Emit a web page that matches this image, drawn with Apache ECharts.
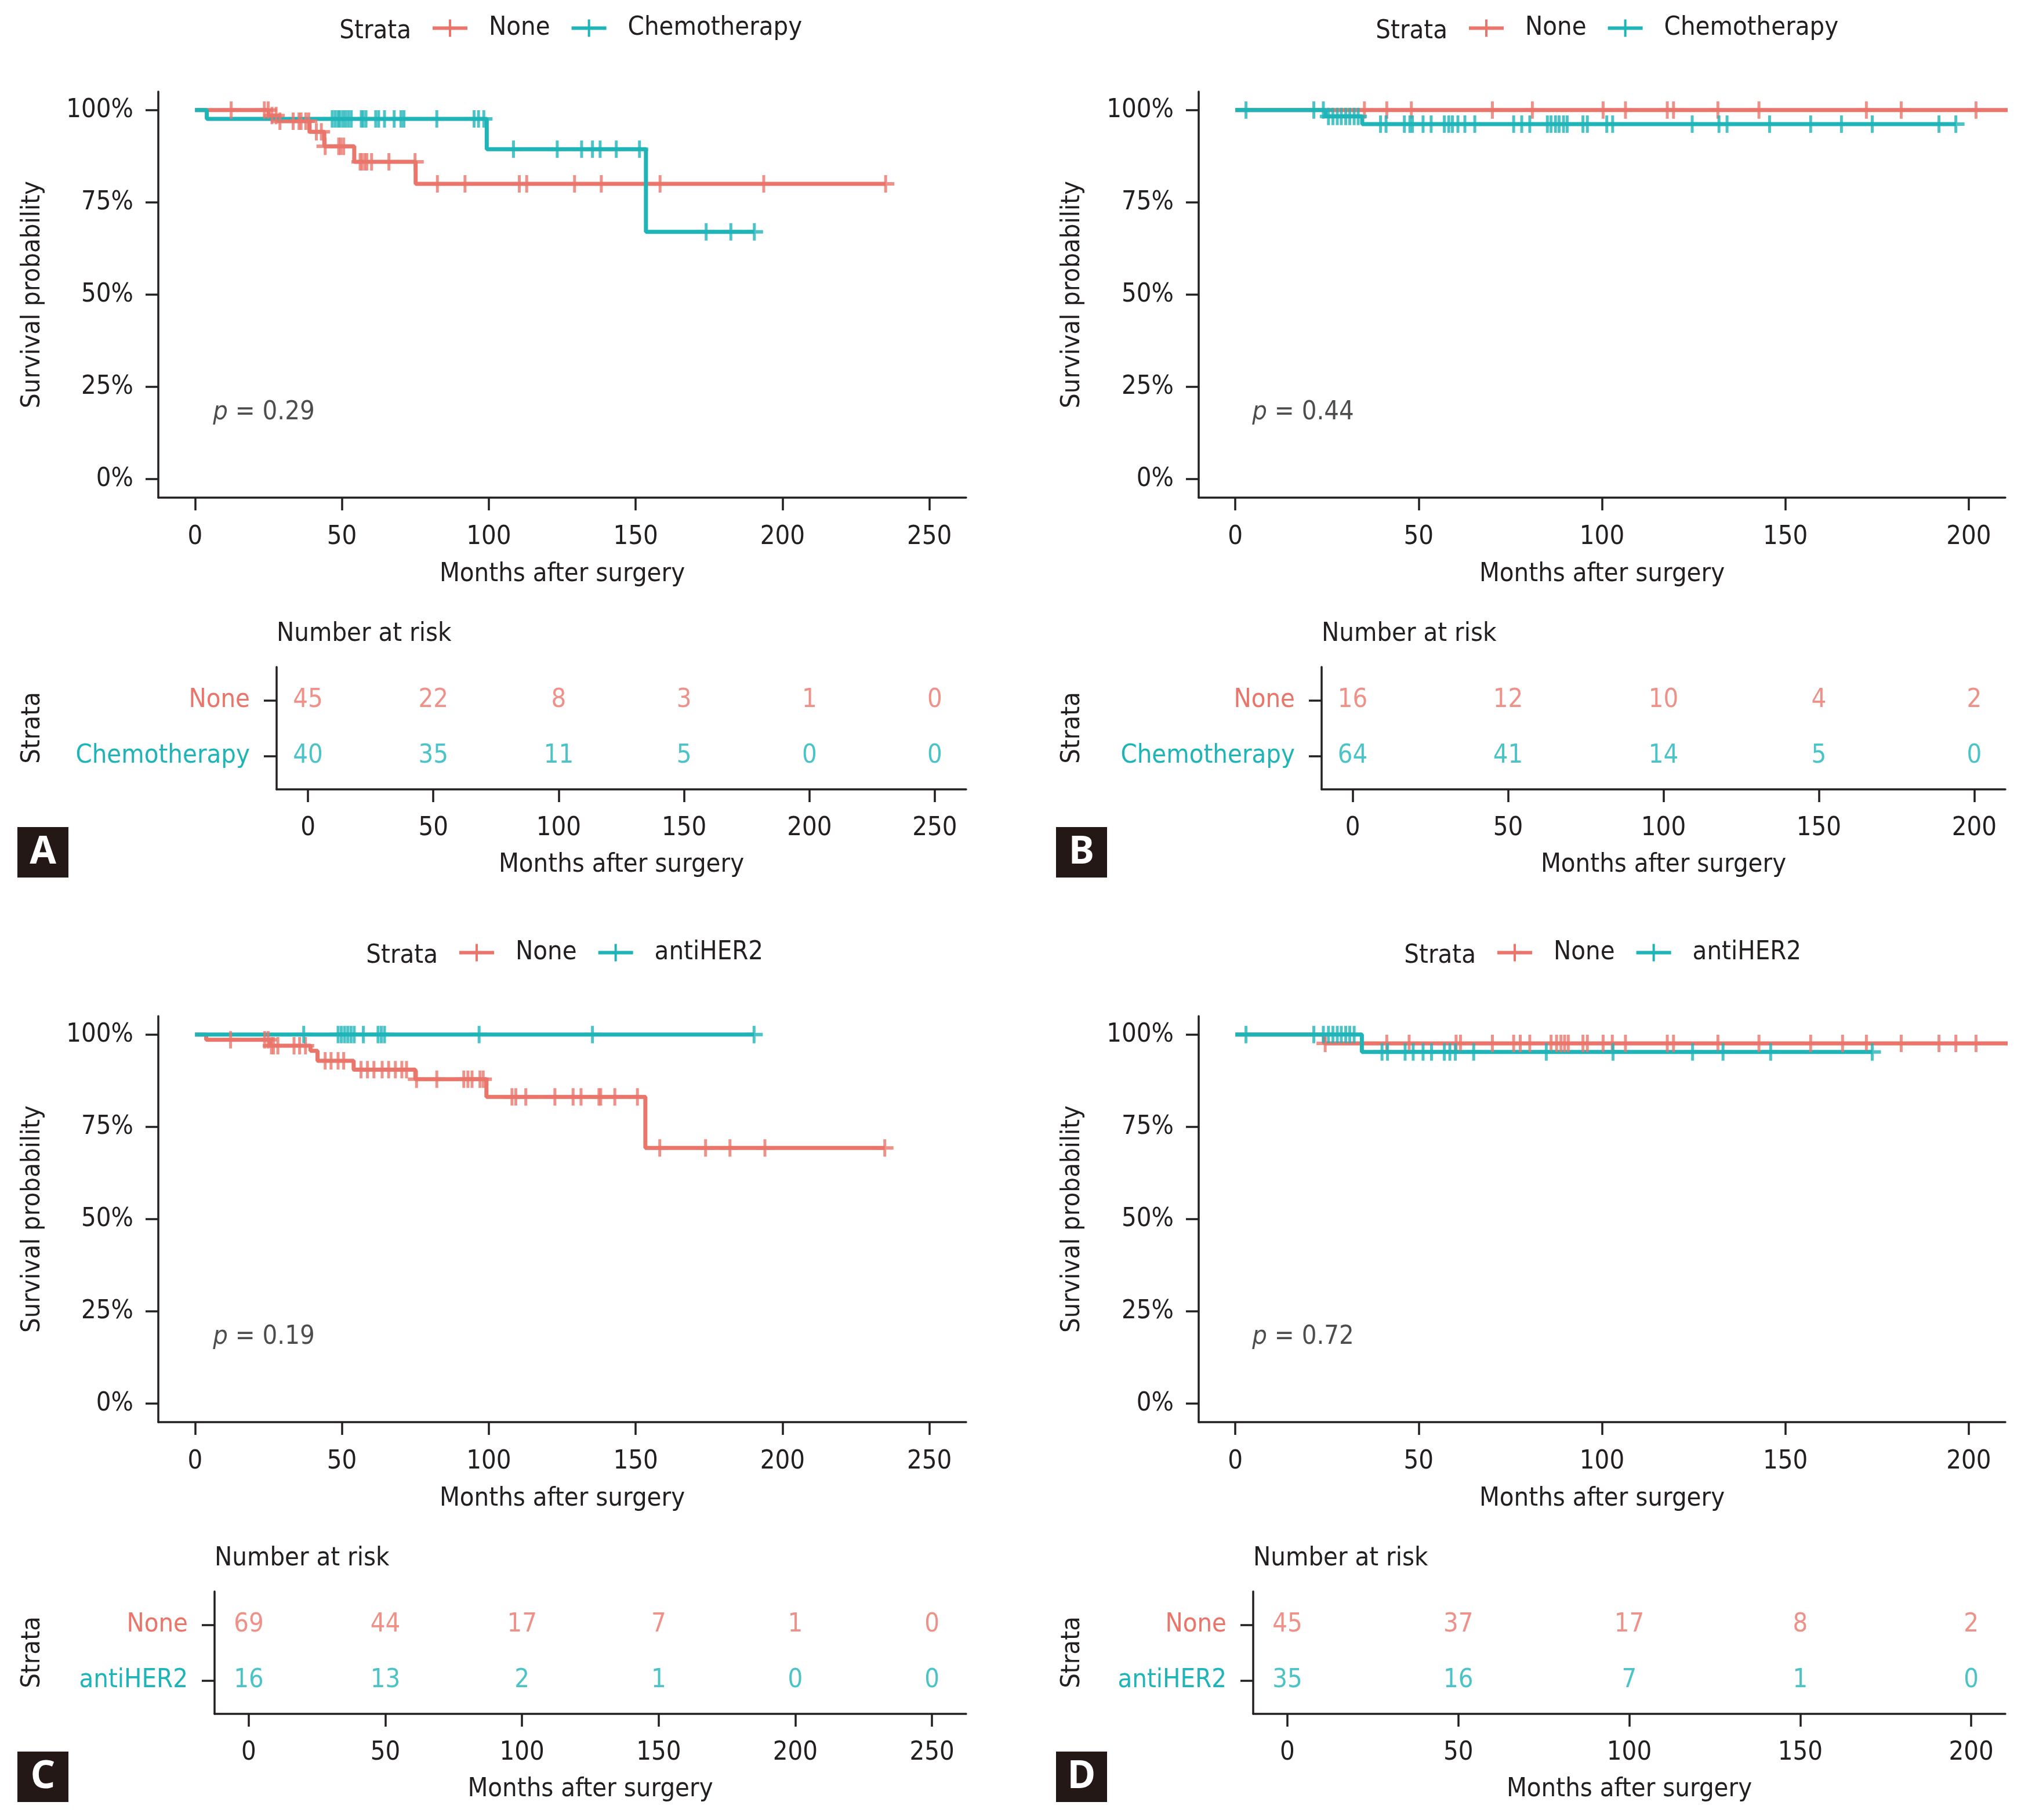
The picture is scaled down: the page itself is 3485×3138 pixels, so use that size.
<!DOCTYPE html>
<html>
<head>
<meta charset="utf-8">
<script src="https://cdn.jsdelivr.net/npm/echarts@6/dist/echarts.min.js"></script>
<style>
  html, body { margin: 0; background: #fff; }
  #chart { width: 3485px; height: 3138px; }
</style>
</head>
<body>
<div id="chart"></div>
<script>
// survival curves: [months, survival] at each step, censor times in months
var aNoneSteps = [[0, 1], [25.0, 0.985], [28.2, 0.970], [39.0, 0.941], [44.0, 0.902], [54.2, 0.860], [75.1, 0.800], [235.1, 0.800]];
var aNoneCensor = [12.3, 23.6, 24.9, 26.2, 27.6, 28.9, 33.4, 35.4, 36.1, 37.7, 38.7, 41.3, 43.0, 44.3, 48.9, 49.6, 50.6, 56.2, 56.8, 57.8, 58.5, 60.1, 66.0, 74.9, 82.5, 91.9, 110.4, 112.9, 129.2, 138.3, 158.3, 193.6, 235.1];
var aChemoSteps = [[0, 1], [4.0, 0.976], [99.3, 0.894], [153.5, 0.670], [190.4, 0.670]];
var aChemoCensor = [46.7, 47.7, 48.7, 49.3, 50.3, 51.2, 52.2, 53.2, 56.6, 57.2, 58.2, 61.5, 62.5, 64.5, 67.8, 70.1, 71.1, 82.3, 95.0, 96.5, 98.3, 108.4, 123.3, 131.6, 135.3, 137.9, 143.4, 151.3, 174.0, 182.4, 190.4];

var bNoneSteps = [[0, 1], [215, 1]];
var bNoneCensor = [35.2, 41.3, 48.0, 70.1, 81.0, 100.3, 106.4, 117.8, 119.5, 131.6, 142.8, 172.1, 181.6, 202.0];
var bChemoSteps = [[0, 1], [24.6, 0.983], [34.6, 0.962], [196.5, 0.962]];
var bChemoCensor = [2.9, 21.4, 24.0, 25.4, 26.6, 27.8, 28.9, 30.1, 31.2, 32.4, 33.5, 39.6, 41.1, 46.1, 47.6, 48.3, 51.2, 53.4, 57.0, 58.2, 59.2, 60.7, 62.6, 65.3, 75.9, 78.1, 80.3, 85.1, 86.1, 87.3, 88.3, 89.5, 90.5, 94.8, 96.0, 101.3, 102.9, 124.6, 131.9, 134.1, 145.7, 156.9, 165.3, 173.7, 191.9, 196.5];

var cNoneSteps = [[0, 1], [3.8, 0.986], [25.5, 0.970], [39.3, 0.956], [41.7, 0.929], [54.0, 0.905], [75.0, 0.879], [99.2, 0.831], [153.3, 0.693], [234.8, 0.693]];
var cNoneCensor = [12.1, 23.7, 24.9, 26.0, 26.7, 28.2, 33.7, 35.6, 37.6, 44.3, 46.3, 48.7, 50.6, 56.5, 58.7, 60.9, 63.7, 65.9, 68.2, 70.4, 72.0, 75.4, 82.3, 91.5, 92.9, 94.3, 97.0, 98.1, 107.9, 109.2, 112.6, 122.5, 128.7, 131.4, 137.5, 138.1, 142.9, 150.6, 158.2, 173.8, 182.1, 194.0, 234.8];
var cHerSteps = [[0, 1], [190.3, 1]];
var cHerCensor = [37.0, 48.7, 49.8, 50.9, 52.0, 53.1, 54.2, 57.3, 62.3, 63.4, 64.5, 96.7, 135.3, 190.3];

var dNoneSteps = [[0, 1], [24.2, 0.976], [215, 0.976]];
var dNoneCensor = [24.5, 41.3, 47.4, 60.2, 61.4, 70.1, 75.9, 77.7, 80.3, 86.1, 87.6, 88.8, 89.8, 90.8, 94.8, 96.0, 100.3, 102.8, 106.4, 117.8, 119.5, 131.6, 142.8, 156.9, 165.6, 172.1, 181.6, 191.9, 196.5, 202.0];
var dHerSteps = [[0, 1], [34.5, 0.953], [173.7, 0.953]];
var dHerCensor = [2.9, 21.4, 24.0, 25.4, 26.6, 27.8, 28.9, 30.1, 31.2, 32.4, 40.0, 41.5, 46.3, 48.5, 51.2, 53.5, 57.0, 58.5, 60.0, 65.0, 84.8, 103.0, 124.7, 133.0, 146.0, 173.7];

// number at risk
var ticks250 = [0, 50, 100, 150, 200, 250];
var ticks200 = [0, 50, 100, 150, 200];
var pctTicks = [0, 0.25, 0.5, 0.75, 1];
var aRiskNone = [45, 22, 8, 3, 1, 0];
var aRiskChemo = [40, 35, 11, 5, 0, 0];
var bRiskNone = [16, 12, 10, 4, 2];
var bRiskChemo = [64, 41, 14, 5, 0];
var cRiskNone = [69, 44, 17, 7, 1, 0];
var cRiskHer = [16, 13, 2, 1, 0, 0];
var dRiskNone = [45, 37, 17, 8, 2];
var dRiskHer = [35, 16, 7, 1, 0];

var strataChemo = ['None', 'Chemotherapy'];
var strataHer = ['None', 'antiHER2'];
var pValues = ['0.29', '0.44', '0.19', '0.72'];

var FONT = "'Liberation Sans Narrow', 'Arial Narrow', 'DejaVu Sans Condensed', sans-serif";
var INK = '#231f20';
var RED = '#e9756b';
var TEAL = '#1fb4b8';
var PLUS = 'path://M0,12H30V18H0Z M12.5,0H17.5V30H12.5Z';
var KEY = 'path://M0,12H60V18H0Z M28,0H32V30H28Z';

var txt = { fontFamily: FONT, fontSize: 45, color: INK };

var grids = [], xAxes = [], yAxes = [], series = [], legends = [], graphics = [];

function level(steps, t) {
    var s = steps[0][1];
    steps.forEach(function (p) { if (p[0] <= t) s = p[1]; });
    return s;
}

function axisLine() {
    return { show: true, onZero: false, lineStyle: { color: INK, width: 3.5 } };
}
function axisTick(vals) {
    return { show: true, length: 22, customValues: vals, lineStyle: { color: INK, width: 3.5 } };
}
function text(x, y, str, extra) {
    return {
        type: 'text', x: x, y: y, silent: true,
        style: Object.assign({ text: str, fill: INK, fontSize: 45, fontFamily: FONT, align: 'left', verticalAlign: 'middle' }, extra || {})
    };
}

function addPanel(L, d) {
    var gm = grids.length;
    var gt = gm + 1;
    grids.push({ left: L.mainL, top: L.y0 + 158, width: L.right - L.mainL, height: 700, outerBoundsMode: 'none' });
    grids.push({ left: L.tabL, top: L.y0 + 1150, width: L.right - L.tabL, height: 211, outerBoundsMode: 'none' });

    xAxes.push({
        type: 'value', gridIndex: gm, min: L.range[0], max: L.range[1],
        axisLine: axisLine(), axisTick: axisTick(L.ticks),
        axisLabel: Object.assign({ customValues: L.ticks, margin: 46 }, txt),
        splitLine: { show: false },
        name: 'Months after surgery', nameLocation: 'middle', nameGap: 110, nameTextStyle: txt
    });
    yAxes.push({
        type: 'value', gridIndex: gm, min: -0.05, max: 1.05,
        axisLine: axisLine(), axisTick: axisTick(pctTicks),
        axisLabel: Object.assign({ customValues: pctTicks, margin: 43, formatter: function (v) { return Math.round(v * 100) + '%'; } }, txt),
        splitLine: { show: false }
    });
    xAxes.push({
        type: 'value', gridIndex: gt, min: L.range[0], max: L.range[1],
        axisLine: axisLine(), axisTick: axisTick(L.ticks),
        axisLabel: Object.assign({ customValues: L.ticks, margin: 45 }, txt),
        splitLine: { show: false },
        name: 'Months after surgery', nameLocation: 'middle', nameGap: 108, nameTextStyle: txt
    });
    yAxes.push({
        type: 'value', gridIndex: gt, min: 0.4, max: 2.6,
        axisLine: axisLine(), axisTick: axisTick([1, 2]),
        axisLabel: Object.assign({
            customValues: [1, 2], margin: 46,
            formatter: function (v) { return v > 1.5 ? '{a|' + d.strata[0] + '}' : '{b|' + d.strata[1] + '}'; },
            rich: { a: Object.assign({}, txt, { color: RED }), b: Object.assign({}, txt, { color: TEAL }) }
        }, txt),
        splitLine: { show: false }
    });

    d.strata.forEach(function (name, k) {
        var col = k === 0 ? RED : TEAL;
        series.push({
            type: 'line', name: name, xAxisIndex: gm, yAxisIndex: gm,
            data: d.steps[k], step: 'end', symbol: 'none', clip: true, silent: true, z: 2,
            lineStyle: { color: col, width: 7 }, itemStyle: { color: col }
        });
        series.push({
            type: 'scatter', name: name, xAxisIndex: gm, yAxisIndex: gm, silent: true, z: 3,
            data: d.censor[k].map(function (t) { return [t, level(d.steps[k], t)]; }),
            symbol: PLUS, symbolSize: 30, itemStyle: { color: col }
        });
        series.push({
            type: 'scatter', name: 'risk' + gt + k, xAxisIndex: gt, yAxisIndex: gt, silent: true,
            data: L.ticks.map(function (t, i) { return [t, 2 - k, d.risk[k][i]]; }),
            symbolSize: 0,
            label: Object.assign({ show: true, position: 'inside', formatter: function (p) { return String(p.value[2]); } }, txt, { color: col })
        });
    });

    series.push({
        type: 'scatter', name: 'pval' + gm, xAxisIndex: gm, yAxisIndex: gm, silent: true,
        data: [[L.pX, 0.18]], symbolSize: 0,
        label: Object.assign({
            show: true, position: 'right', distance: 0,
            formatter: '{i|p} = ' + d.p,
            rich: { i: Object.assign({}, txt, { fontStyle: 'italic' }) }
        }, txt)
    });

    legends.push({
        left: L.legendL, top: L.y0 + 26, padding: 0, itemWidth: 60, itemHeight: 30, itemGap: 37,
        selectedMode: false, textStyle: Object.assign({ padding: [0, 0, 0, 32] }, txt),
        data: d.strata.map(function (n) { return { name: n, icon: KEY }; })
    });

    graphics.push(text(L.legendL - 37, L.y0 + 54, 'Strata', { align: 'right' }));
    graphics.push(text(L.titleX, L.y0 + 508, 'Survival probability', { align: 'center' }));
    graphics[graphics.length - 1].rotation = Math.PI / 2;
    graphics.push(text(L.tabL, L.y0 + 1093, 'Number at risk'));
    graphics.push(text(L.titleX, L.y0 + 1255, 'Strata', { align: 'center' }));
    graphics[graphics.length - 1].rotation = Math.PI / 2;
    graphics.push({ type: 'rect', silent: true, shape: { x: L.boxX, y: L.y0 + 1426, width: 88, height: 87 }, style: { fill: '#231815' } });
    graphics.push(text(L.boxX + 44, L.y0 + 1470, d.letter, { align: 'center', fill: '#fff', fontWeight: 'bold', fontSize: 66, fontFamily: "'Noto Sans', sans-serif" }));
}

addPanel(
    { y0: 0, mainL: 273, tabL: 477, right: 1666, range: [-12.5, 262.5], ticks: ticks250, legendL: 746, titleX: 56, boxX: 30, pX: 6.1 },
    { letter: 'A', strata: strataChemo, steps: [aNoneSteps, aChemoSteps], censor: [aNoneCensor, aChemoCensor], risk: [aRiskNone, aRiskChemo], p: pValues[0] }
);
addPanel(
    { y0: 0, mainL: 2067, tabL: 2279, right: 3458, range: [-10, 210], ticks: ticks200, legendL: 2533, titleX: 1849, boxX: 1821, pX: 4.6 },
    { letter: 'B', strata: strataChemo, steps: [bNoneSteps, bChemoSteps], censor: [bNoneCensor, bChemoCensor], risk: [bRiskNone, bRiskChemo], p: pValues[1] }
);
addPanel(
    { y0: 1594, mainL: 273, tabL: 370, right: 1666, range: [-12.5, 262.5], ticks: ticks250, legendL: 792, titleX: 56, boxX: 30, pX: 6.1 },
    { letter: 'C', strata: strataHer, steps: [cNoneSteps, cHerSteps], censor: [cNoneCensor, cHerCensor], risk: [cRiskNone, cRiskHer], p: pValues[2] }
);
addPanel(
    { y0: 1594, mainL: 2067, tabL: 2161, right: 3458, range: [-10, 210], ticks: ticks200, legendL: 2582, titleX: 1849, boxX: 1821, pX: 4.6 },
    { letter: 'D', strata: strataHer, steps: [dNoneSteps, dHerSteps], censor: [dNoneCensor, dHerCensor], risk: [dRiskNone, dRiskHer], p: pValues[3] }
);

var myChart = echarts.init(document.getElementById('chart'));
myChart.setOption({
    backgroundColor: '#fff',
    animation: false,
    grid: grids,
    xAxis: xAxes,
    yAxis: yAxes,
    legend: legends,
    graphic: graphics,
    series: series
});
</script>
</body>
</html>
